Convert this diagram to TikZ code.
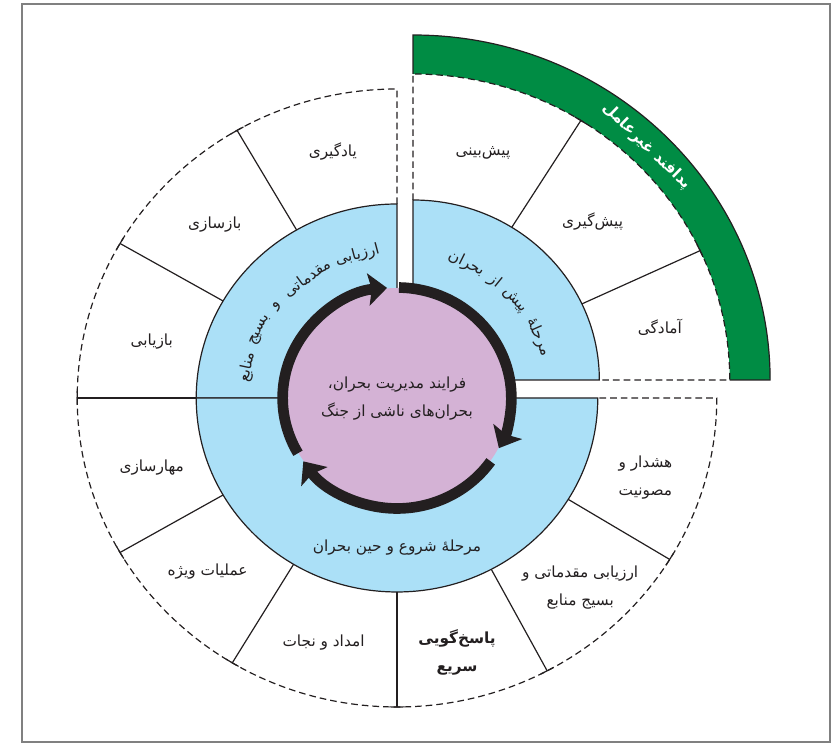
\documentclass[tikz,border=0pt]{standalone}
\usepackage{fontspec}
\newfontfamily\farsifont[Script=Arabic]{DejaVu Sans}
\TeXXeTstate=1
\usetikzlibrary{arrows.meta}

\definecolor{ringblue}{RGB}{171,224,247}
\definecolor{corepurple}{RGB}{212,178,213}
\definecolor{bandgreen}{RGB}{0,140,68}
\definecolor{inkblack}{RGB}{35,31,32}
\definecolor{framegray}{RGB}{128,128,128}
\newcommand{\labelsize}{\fontsize{11.5}{21}\selectfont}

\begin{document}
\begin{tikzpicture}[x=0.75pt,y=0.75pt,xscale=1.035]
		\tikzstyle{myblue}=[fill=ringblue,draw=inkblack,line width=0.9pt]
		\tikzstyle{myline}=[inkblack,line width=0.9pt]
		\tikzstyle{mydash}=[inkblack,line width=0.9pt,dash pattern=on 5pt off 3pt]
		\tikzstyle{mylabel}=[inkblack,font=\farsifont\labelsize,align=center]
		\tikzstyle{myring}=[inkblack,font=\farsifont\labelsize,inner sep=0pt]
		\tikzstyle{myarrow}=[inkblack,line width=8pt,>={Stealth[length=14pt,width=24pt,inset=2.5pt]},->]

		\useasboundingbox (-383.6,-349) rectangle (420.3,398);
		\draw[framegray,line width=1.2pt] (-362.3,-344) rectangle (418.4,394);

		% left half and lower half, centre (0,0)
		\draw[mydash] (0,194) -- (0,309) arc (90:180:309);
		\draw[mydash] (-309,0) arc (180:360:309) -- (194,0);
		\draw[myline] (-309,0) -- (-194,0);
		\draw[myblue] (0,0) -- (0,194) arc (90:180:194) -- cycle;
		\draw[myblue] (-194,0) arc (180:360:194) -- cycle;
		\foreach \a in {120,150,210,239,270,298,328.5} { \draw[myline] (\a:194) -- (\a:309);}
		\foreach \a in {120,150,180,210,239,270,298,328.5} { \draw[myline] ({\a-1.3}:309) arc[start angle=\a-1.3,end angle=\a+1.3,radius=309];}

		% the pre-crisis quarter is pulled out
		\begin{scope}[shift={(15.5,18)}]
		\fill[bandgreen] (306,0) -- (345,0) arc (0:90:345) -- (0,306) arc (90:0:306) -- cycle;
		\draw[myline] (306,0) -- (345,0) arc (0:90:345) -- (0,306);
		\draw[mydash] (0,180) -- (0,306) arc (90:0:306) -- (180,0);
		\draw[myblue] (0,0) -- (0,180) arc (90:0:180) -- cycle;
		\foreach \a in {58,25} { \draw[myline] (\a:180) -- (\a:306);}
		\foreach \a in {58,25} { \draw[myline] ({\a-1.3}:306) arc[start angle=\a-1.3,end angle=\a+1.3,radius=306];}
		\end{scope}

		% core and cycle arrows
		\fill[corepurple] (0,0) circle (110);
		\draw[myarrow] (89:110.5) arc (89:-27:110.5);
		\draw[myarrow] (-35:110.5) arc (-35:-145:110.5);
		\draw[myarrow] (-150:110.5) arc (-150:-265:110.5);

		\node[mylabel] (core) at (0,-1) {\beginR فرایند مدیریت بحران،\endR\\\beginR بحران‌های ناشی از جنگ\endR};
		\node[mylabel] (during) at (0,-150) {\beginR مرحلهٔ شروع و حین بحران\endR};
		\foreach \w / \a [count=\i] in {مرحلهٔ/24,پیش/40.5,از/51,بحران/63.5} { \node[myring,rotate=\a-90] (pre\i) at (\a:150) {\beginR\w\endR};}
		\foreach \w / \a [count=\i] in {ارزیابی/105,مقدماتی/126,و/141.5,بسیج/153,منابع/168} { \node[myring,rotate=\a-90] (prep\i) at (\a:148) {\beginR\w\endR};}

		\node[mylabel] (yadgiri) at (-62,246) {\beginR یادگیری\endR};
		\node[mylabel] (bazsazi) at (-176,173) {\beginR بازسازی\endR};
		\node[mylabel] (bazyabi) at (-237,56) {\beginR بازیابی\endR};
		\node[mylabel] (pishbini) at (83,245) {\beginR پیش‌بینی\endR};
		\node[mylabel] (pishgiri) at (189,176) {\beginR پیش‌گیری\endR};
		\node[mylabel] (amadegi) at (254,71) {\beginR آمادگی\endR};
		\node[mylabel] (hoshdar) at (240,-80) {\beginR هشدار و\endR\\\beginR مصونیت\endR};
		\node[mylabel] (arzyabi) at (177,-190) {\beginR ارزیابی مقدماتی و\endR\\\beginR بسیج منابع\endR};
		\node[mylabel,font=\farsifont\labelsize\bfseries] (pasokh) at (58,-254) {\beginR پاسخ‌گویی\endR\\\beginR سریع\endR};
		\node[mylabel] (emdad) at (-71,-245) {\beginR امداد و نجات\endR};
		\node[mylabel] (amaliat) at (-183,-174) {\beginR عملیات ویژه\endR};
		\node[mylabel] (maharsazi) at (-237,-70) {\beginR مهارسازی\endR};

		\node[mylabel,text=white,font=\farsifont\labelsize\bfseries,rotate=-44] (padafand) at (241.3,251.8) {\beginR پدافند غیرعامل\endR};
	\end{tikzpicture}
\end{document}
